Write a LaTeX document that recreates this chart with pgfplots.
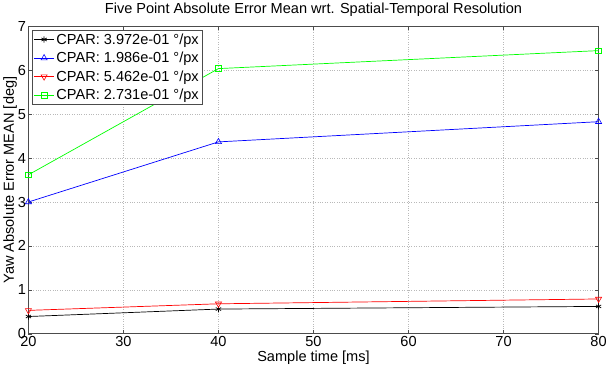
\documentclass[border=0pt]{standalone}
\usepackage{pgfplots}
\pgfplotsset{compat=1.18}
\usepackage{fontspec}
\setmainfont{Liberation Sans}
\begin{document}
\begin{tikzpicture}
\begin{axis}[
  scale only axis,
  width=568pt, height=306pt,
  xmin=20, xmax=80, ymin=0, ymax=7,
  xtick={20,30,...,80}, ytick={0,1,...,7},
  tick align=inside,
  major tick length=4pt,
  grid=major,
  grid style={dotted, gray!55, line width=0.5pt},
  axis line style={gray!60!black},
  tick style={gray!60!black},
  every axis plot/.append style={line width=0.7pt},
  /pgf/number format/assume math mode=true,
  tick label style={font=\fontsize{14.5}{16}\selectfont},
  label style={font=\fontsize{14.5}{16}\selectfont},
  title style={font=\fontsize{14.5}{16}\selectfont, yshift=0pt},
  title={Five Point Absolute Error Mean wrt. Spatial-Temporal Resolution},
  xlabel={Sample time [ms]},
  ylabel={Yaw Absolute Error MEAN [deg]},
  xticklabel style={yshift=1pt},
  yticklabel style={xshift=1pt},
  xlabel style={yshift=2pt},
  ylabel style={yshift=-6pt},
  legend style={at={(0.006,0.99)}, anchor=north west, font=\fontsize{14.5}{16}\selectfont,
    draw=gray!60!black, line width=0.8pt, inner sep=1.5pt, row sep=2.5pt, legend cell align=left},
  legend image post style={line width=0.7pt},
  legend image code/.code={\draw[mark repeat=2,mark phase=2] plot coordinates {(0cm,0cm) (0.35cm,0cm) (0.7cm,0cm)};},
]
\addplot[black, mark=asterisk, mark size=3pt] coordinates {(20,0.39) (40,0.56) (80,0.62)};
\addlegendentry{CPAR: 3.972e-01 °/px}
\addplot[blue, mark=triangle, mark size=3.5pt, mark options={solid, line width=0.6pt}] coordinates {(20,3.00) (40,4.37) (80,4.83)};
\addlegendentry{CPAR: 1.986e-01 °/px}
\addplot[red, mark=triangle, mark size=3.5pt, mark options={rotate=180, line width=0.6pt}] coordinates {(20,0.53) (40,0.68) (80,0.79)};
\addlegendentry{CPAR: 5.462e-01 °/px}
\addplot[green, mark=square, mark size=2.8pt, mark options={line width=0.6pt}] coordinates {(20,3.62) (40,6.04) (80,6.45)};
\addlegendentry{CPAR: 2.731e-01 °/px}
\end{axis}
\end{tikzpicture}
\end{document}
